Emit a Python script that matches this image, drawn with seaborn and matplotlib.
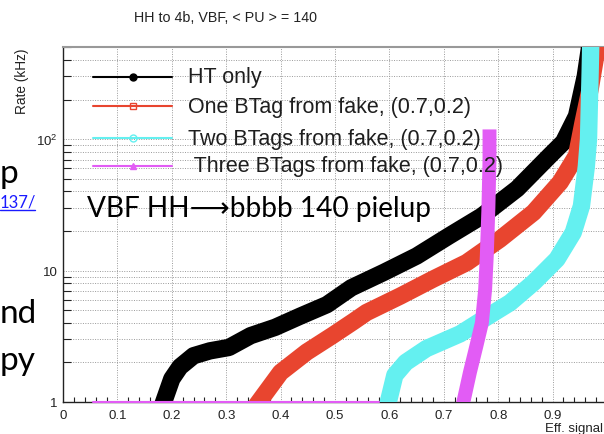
import matplotlib
matplotlib.use('Agg')
import matplotlib.pyplot as plt
import seaborn as sns
import pandas as pd
from matplotlib.lines import Line2D
from matplotlib.ticker import FixedLocator, MultipleLocator, LogLocator, NullFormatter

W, H = 604, 435

labels = ['HT only', 'One BTag from fake, (0.7,0.2)',
          'Two BTags from fake, (0.7,0.2)', ' Three BTags from fake, (0.7,0.2)']
colors = ['#000000', '#e8452f', '#64f0f0', '#e25cf5']

# HT only
ht_eff = [0.185, 0.20, 0.215, 0.24, 0.27, 0.305, 0.345, 0.39, 0.436, 0.485,
          0.53, 0.59, 0.65, 0.71, 0.77, 0.835, 0.895, 0.92, 0.944, 0.96, 0.968]
ht_rate = [1.0, 1.5, 1.85, 2.25, 2.45, 2.6, 3.2, 3.7, 4.5, 5.5,
           7.4, 9.7, 12.9, 18.4, 26, 42, 75, 95, 150, 300, 500]

# one btag
one_eff = [0.36, 0.40, 0.448, 0.495, 0.534, 0.558, 0.62, 0.68, 0.742,
           0.803, 0.865, 0.914, 0.944, 0.956, 0.969, 0.982]
one_rate = [1.0, 1.68, 2.4, 3.2, 4.1, 4.8, 6.4, 8.6, 11.5,
            17.3, 27.7, 47, 75, 134, 240, 500]

# two btags
two_eff = [0.598, 0.61, 0.63, 0.668, 0.73, 0.773, 0.822, 0.865, 0.908,
           0.938, 0.953, 0.962, 0.966, 0.969, 0.97]
two_rate = [1.0, 1.6, 2.0, 2.55, 3.3, 4.27, 5.7, 8.1, 12.2,
            19.5, 31, 62, 100, 320, 500]

# three btags
three_eff = [0.736, 0.748, 0.76, 0.77, 0.776, 0.779, 0.782, 0.784, 0.784]
three_rate = [1.0, 1.68, 2.68, 4.0, 7.2, 12.9, 30, 70, 105]
three_floor_eff = [0.055, 0.58]
three_floor_rate = [1.0, 1.0]

x_ticks = [0, 0.1, 0.2, 0.3, 0.4, 0.5, 0.6, 0.7, 0.8, 0.9]
x_tick_labels = ['0', '0.1', '0.2', '0.3', '0.4', '0.5', '0.6', '0.7', '0.8', '0.9']
y_ticks = [1, 10, 100]
y_tick_labels = ['1', '10', '10$^{2}$']

sns.set_style('white')
plt.rcParams['font.family'] = ['Liberation Sans', 'DejaVu Sans']
plt.rcParams['mathtext.fontset'] = 'custom'
plt.rcParams['mathtext.rm'] = 'Liberation Sans'

fig = plt.figure(figsize=(W / 100, H / 100), dpi=100)
ax = fig.add_axes([63 / W, 1 - 403 / H, (607 - 63) / W, (403 - 48.3) / H])


def band(eff, rate, color, lw):
    df = pd.DataFrame({'eff': eff, 'rate': rate})
    sns.lineplot(data=df, x='eff', y='rate', sort=False, estimator=None,
                 color=color, lw=lw, ax=ax, solid_capstyle='projecting',
                 solid_joinstyle='round', zorder=3)


band(ht_eff, ht_rate, colors[0], 12.5)
band(one_eff, one_rate, colors[1], 12.5)
band(two_eff, two_rate, colors[2], 12.5)
sns.lineplot(x=three_floor_eff, y=three_floor_rate, color=colors[3], lw=1.5,
             ax=ax, zorder=3, clip_on=False)
band(three_eff, three_rate, colors[3], 10)

ax.set_yscale('log')
ax.set_xlim(0, 1)
ax.set_ylim(1, 500)
ax.set_xlabel('')
ax.set_ylabel('')

ax.xaxis.set_major_locator(FixedLocator(x_ticks))
ax.set_xticklabels(x_tick_labels)
ax.xaxis.set_minor_locator(MultipleLocator(0.02))
ax.yaxis.set_major_locator(FixedLocator(y_ticks))
ax.set_yticklabels(y_tick_labels)
ax.yaxis.set_minor_locator(LogLocator(base=10, subs=range(2, 10)))
ax.yaxis.set_minor_formatter(NullFormatter())

ax.tick_params(axis='x', which='major', direction='in', length=7, width=0.8,
               labelsize=9.5, pad=5, color='#222222', labelcolor='#222222')
ax.tick_params(axis='x', which='minor', direction='in', length=3.3, width=0.8,
               color='#222222', bottom=True)
ax.tick_params(axis='y', which='major', direction='in', length=12, width=0.8,
               labelsize=9.5, pad=4, color='#222222', labelcolor='#222222')
ax.tick_params(axis='y', which='minor', direction='in', length=5.8, width=0.8,
               color='#222222', left=True)

ax.grid(True, which='major', axis='x', color='#9a9a9a', lw=0.7, ls=(0, (1, 1.5)))
ax.grid(True, which='both', axis='y', color='#9a9a9a', lw=0.7, ls=(0, (1, 1.5)))
ax.set_axisbelow(True)

for s in ['left', 'bottom']:
    ax.spines[s].set_color('#222222')
    ax.spines[s].set_linewidth(1)
ax.spines['top'].set_color('#999999')
ax.spines['top'].set_linewidth(1.5)
ax.spines['right'].set_visible(False)

# legend drawn the ROOT way
leg_y = [78, 107, 139, 167]
leg_marker = ['o', 's', 'o', '^']
leg_mfc = [colors[0], 'none', 'none', colors[3]]
for i, y in enumerate(leg_y):
    ln = Line2D([93 / W, 132.5 / W, 172 / W], [1 - y / H] * 3,
                transform=fig.transFigure, color=colors[i], lw=1.5,
                marker=leg_marker[i], markevery=[1], markersize=5,
                markerfacecolor=leg_mfc[i], markeredgecolor=colors[i])
    fig.add_artist(ln)
    fig.text(188 / W, 1 - y / H, labels[i], fontsize=15.5, color='#1e1e1e',
             va='center', ha='left', zorder=6)

fig.text(225 / W, 1 - 22 / H, 'HH to 4b, VBF, < PU > = 140', fontsize=10.3,
         ha='center', va='baseline', color='#222222')
fig.text(22 / W, 1 - 48 / H, 'Rate (kHz)', fontsize=9.8, rotation=90,
         ha='center', va='top', color='#222222')
fig.text(545 / W, 1 - 432.5 / H, 'Eff. signal', fontsize=9.5,
         ha='left', va='baseline', color='#222222')

slide = ['Lato', 'DejaVu Sans']
fig.text(87 / W, 1 - 216.7 / H, 'VBF HH\u27f6bbbb 140 pielup', fontsize=20.2,
         family=slide, ha='left', va='baseline', color='black', zorder=6)
fig.text(0, 1 - 183 / H, 'p', fontsize=24, family=slide,
         ha='left', va='baseline', color='black')
fig.text(0, 1 - 208 / H, '137/', fontsize=12, family=slide,
         ha='left', va='baseline', color='#1a1aff')
fig.add_artist(Line2D([0, 35 / W], [1 - 210.5 / H] * 2, transform=fig.transFigure,
                      color='#1a1aff', lw=1))
fig.text(0, 1 - 323 / H, 'nd', fontsize=24, family=slide,
         ha='left', va='baseline', color='black')
fig.text(0, 1 - 370 / H, 'py', fontsize=24, family=slide,
         ha='left', va='baseline', color='black')

fig.savefig('out.png', dpi=100)
